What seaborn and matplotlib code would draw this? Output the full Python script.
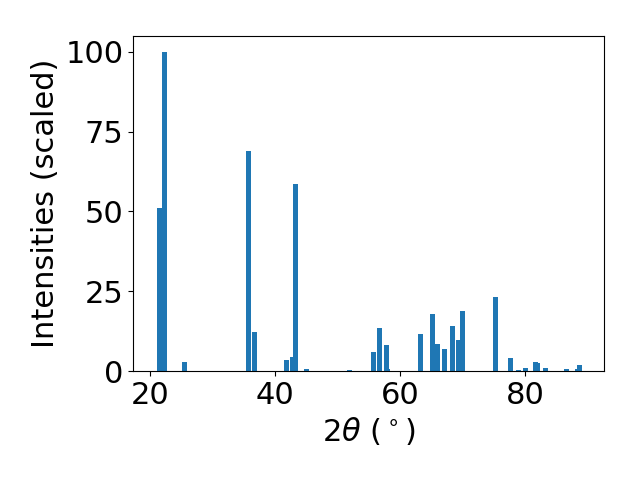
import matplotlib
matplotlib.use("Agg")
import matplotlib.pyplot as plt
import seaborn as sns
import numpy as np
import pandas as pd

two_theta = [21.52, 22.30, 25.52, 35.76, 36.72, 41.84, 42.80, 43.28, 45.04,
             51.92, 55.76, 56.72, 57.84, 58.00, 63.28, 65.20, 65.90, 67.12,
             68.40, 69.36, 70.00, 75.28, 77.68, 78.96, 80.08, 81.60, 81.90,
             83.28, 86.64, 88.40, 88.72]
intensity = [51.2, 100.0, 2.8, 69.0, 12.2, 3.4, 4.4, 58.7, 0.6,
             0.3, 6.0, 13.5, 8.2, 0.6, 11.6, 17.9, 8.5, 6.9,
             14.1, 9.7, 18.8, 23.2, 4.1, 0.3, 1.0, 2.8, 2.5,
             1.0, 0.6, 0.6, 1.9]

df = pd.DataFrame({"two_theta": two_theta, "intensity": intensity})

plt.rcParams["font.size"] = 22

fig, ax = plt.subplots(figsize=(6.4, 4.8), dpi=100)
min_diff = np.min(np.diff(np.unique(df["two_theta"])))
sns.barplot(data=df, x="two_theta", y="intensity", native_scale=True,
            width=0.8 / min_diff, color="#1f77b4", saturation=1,
            errorbar=None, linewidth=0, ax=ax)
ax.set_xlim(17.3, 92.6)
ax.set_ylim(0, 105)
ax.set_xticks([20, 40, 60, 80])
ax.set_yticks([0, 25, 50, 75, 100])
ax.set_xlabel(r"2$\theta$ ($^\circ$)")
ax.set_ylabel("Intensities (scaled)")
fig.subplots_adjust(left=0.208, right=0.944, top=0.925, bottom=0.227)
fig.savefig("out.png", dpi=100)
